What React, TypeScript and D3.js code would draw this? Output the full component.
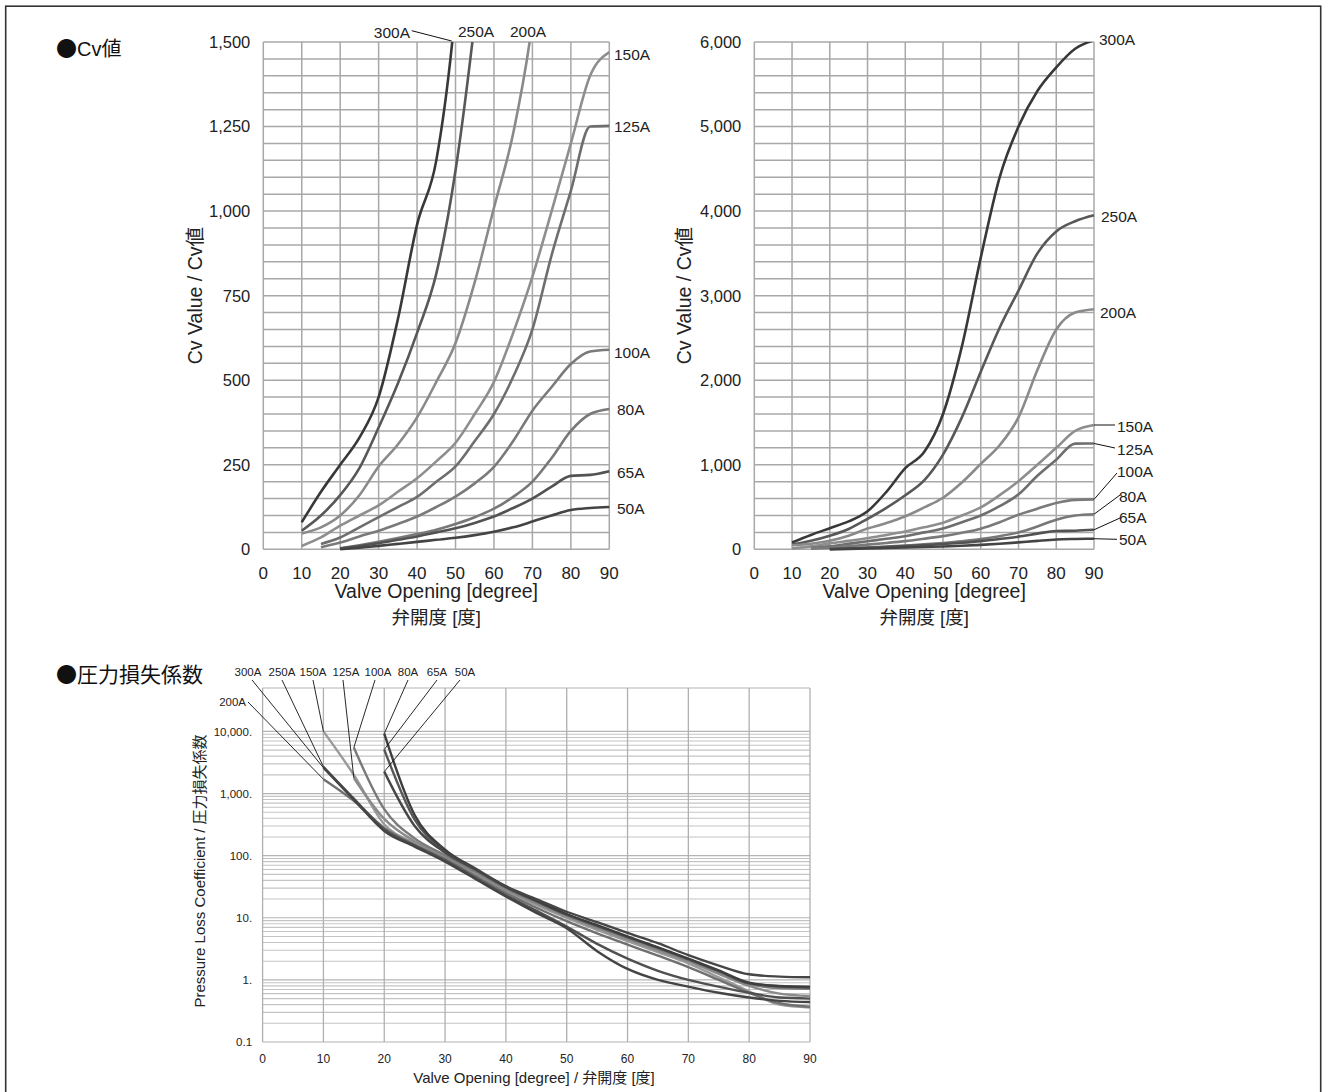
import React from 'react';
import * as d3 from 'd3';

// ---------------- DATA ----------------
const SIZES = ['300A', '250A', '200A', '150A', '125A', '100A', '80A', '65A', '50A'];
const DEG = [10, 15, 20, 25, 30, 35, 40, 45, 50, 55, 60, 65, 70, 75, 80, 85, 90];
const DEG_TICKS = [0, 10, 20, 30, 40, 50, 60, 70, 80, 90];

// Cv values
const CV_300A = [80, 170, 250, 330, 450, 680, 960, 1150, 1600, 2400, 3450, 4400, 5000, 5420, 5700, 5920, 6020];
const CV_250A = [55, 100, 160, 240, 360, 490, 640, 815, 1120, 1560, 2100, 2620, 3060, 3500, 3760, 3880, 3950];
const CV_200A = [47, 65, 100, 160, 245, 310, 390, 495, 610, 790, 1010, 1230, 1560, 2120, 2600, 2800, 2840];
const CV_150A = [10, 35, 70, 100, 130, 170, 210, 260, 315, 400, 495, 640, 806, 1000, 1200, 1400, 1470];
const CV_125A = [null, 16, 35, 65, 95, 125, 155, 200, 245, 320, 400, 510, 650, 870, 1060, 1250, 1252];
const CV_100A = [null, 6, 20, 38, 55, 75, 97, 125, 156, 195, 244, 320, 410, 480, 548, 585, 590];
const CV_80A = [null, null, 3, 12, 22, 33, 45, 58, 75, 95, 120, 155, 200, 270, 350, 400, 415];
const CV_65A = [null, null, 2, 10, 18, 28, 38, 50, 62, 78, 97, 122, 150, 185, 217, 220, 231];
const CV_50A = [null, null, 0, 5, 10, 16, 22, 28, 34, 42, 52, 65, 82, 100, 116, 122, 125];

// Pressure loss coefficient values
const K_300A = [2600, 800, 250, 140, 80, 42, 22, 12, 6.8, 2.9, 1.5, 1.0, 0.78, 0.62, 0.52, 0.46, 0.44];
const K_250A = [2700, 830, 265, 145, 84, 44, 23, 13, 7.2, 3.8, 2.2, 1.4, 1.0, 0.78, 0.62, 0.52, 0.5];
const K_200A = [1700, 760, 280, 150, 88, 47, 25, 14.5, 8.8, 5.6, 3.7, 2.45, 1.6, 1.0, 0.62, 0.42, 0.37];
const K_150A = [10000, 2000, 320, 158, 92, 50, 27, 16, 10, 6.4, 4.2, 2.8, 1.85, 1.1, 0.65, 0.4, 0.36];
const K_125A = [null, 1780, 390, 170, 97, 53, 28, 17, 10.5, 6.8, 4.5, 3.0, 2.0, 1.25, 0.8, 0.6, 0.55];
const K_100A = [null, 5500, 560, 190, 102, 56, 30, 18, 11, 7.2, 4.8, 3.2, 2.1, 1.35, 0.86, 0.74, 0.72];
const K_80A = [null, null, 9200, 450, 125, 62, 32, 19, 11.5, 7.6, 5.0, 3.35, 2.2, 1.42, 0.9, 0.79, 0.76];
const K_65A = [null, null, 5100, 380, 118, 60, 31, 18.5, 11.2, 7.4, 4.9, 3.3, 2.15, 1.38, 0.88, 0.8, 0.78];
const K_50A = [null, null, 2250, 300, 112, 60, 32, 20, 12.5, 8.5, 5.7, 3.9, 2.5, 1.7, 1.23, 1.13, 1.1];

const CV_TICKS_LEFT = [0, 250, 500, 750, 1000, 1250, 1500];
const CV_TICKS_RIGHT = [0, 1000, 2000, 3000, 4000, 5000, 6000];
const K_TICKS = [0.1, 1, 10, 100, 1000, 10000];
const K_TICK_LABELS = ['0.1', '1.', '10.', '100.', '1,000.', '10,000.'];

const CV_DATA = [CV_300A, CV_250A, CV_200A, CV_150A, CV_125A, CV_100A, CV_80A, CV_65A, CV_50A];
const K_DATA = [K_300A, K_250A, K_200A, K_150A, K_125A, K_100A, K_80A, K_65A, K_50A];

// ---------------- STYLE ----------------
const FONT = "'Liberation Sans', Arial, 'Noto Sans CJK JP', sans-serif";
const CJK = "'Noto Sans CJK JP', sans-serif";
const CV_COLORS = ['#383838', '#585858', '#8a8a8a', '#8e8e8e', '#6e6e6e', '#7a7a7a', '#787878', '#525252', '#444444'];
const K_COLORS = ['#444444', '#505050', '#707070', '#9a9a9a', '#8a8a8a', '#7a7a7a', '#3e3e3e', '#565656', '#464646'];
const GRID = '#a8a8a8';

type Lbl = { name: string; x: number; y: number; anchor?: string; lx?: number; ly?: number; leaderTop?: [number, number, number, number] };

const LEFT = {
  id: 'cvL', x0: 263.3, x1: 609.3, yTop: 42, yBot: 549.3, max: 1500, step: 50,
  ticks: CV_TICKS_LEFT, titleX: 195,
  labels: [
    { name: '300A', x: 410, y: 32, anchor: 'end', leaderTop: [411.7, 30.7, 451.7, 41] },
    { name: '250A', x: 476, y: 31, anchor: 'middle' },
    { name: '200A', x: 528, y: 31, anchor: 'middle' },
    { name: '150A', x: 614, y: 54 },
    { name: '125A', x: 614, y: 126 },
    { name: '100A', x: 614, y: 352 },
    { name: '80A', x: 617, y: 409 },
    { name: '65A', x: 617, y: 472 },
    { name: '50A', x: 617, y: 508.5 },
  ] as Lbl[],
};
const RIGHT = {
  id: 'cvR', x0: 754.3, x1: 1094, yTop: 42, yBot: 549.3, max: 6000, step: 200,
  ticks: CV_TICKS_RIGHT, titleX: 684,
  labels: [
    { name: '300A', x: 1099, y: 39 },
    { name: '250A', x: 1101, y: 216 },
    { name: '200A', x: 1100, y: 312 },
    { name: '150A', x: 1117, y: 426, lx: 1115, ly: 425 },
    { name: '125A', x: 1117, y: 449, lx: 1115, ly: 448 },
    { name: '100A', x: 1117, y: 471.5, lx: 1117, ly: 473 },
    { name: '80A', x: 1119, y: 496, lx: 1120, ly: 495 },
    { name: '65A', x: 1119, y: 517.5, lx: 1120, ly: 518 },
    { name: '50A', x: 1119, y: 539, lx: 1117, ly: 539.3 },
  ] as Lbl[],
};

const BOTTOM = {
  x0: 262.6, x1: 810, yTop: 688, yBot: 1042, kMin: 0.1, kMax: 50000,
  labels: [
    { name: '300A', x: 248, y: 672, lx: 252, ly: 680 },
    { name: '250A', x: 282, y: 672, lx: 282, ly: 680 },
    { name: '200A', x: 246, y: 702, anchor: 'end', lx: 248, ly: 702 },
    { name: '150A', x: 313, y: 672, lx: 313, ly: 680 },
    { name: '125A', x: 346, y: 672, lx: 343, ly: 680 },
    { name: '100A', x: 378, y: 672, lx: 375, ly: 680 },
    { name: '80A', x: 408, y: 672, lx: 408, ly: 680 },
    { name: '65A', x: 437, y: 672, lx: 437, ly: 680 },
    { name: '50A', x: 465, y: 672, lx: 460, ly: 680 },
  ] as Lbl[],
};

type CvLayout = typeof LEFT;

function CvChart({ L }: { L: CvLayout }) {
  const x = d3.scaleLinear().domain([0, 90]).range([L.x0, L.x1]);
  const y = d3.scaleLinear().domain([0, L.max]).range([L.yBot, L.yTop]);
  const hLines = d3.range(0, L.max + 1e-6, L.step);
  const line = d3
    .line<[number, number | null]>()
    .defined((d) => d[1] != null)
    .x((d) => x(d[0]))
    .y((d) => y(d[1] as number))
    .curve(d3.curveMonotoneX);
  const cy = (L.yTop + L.yBot) / 2;
  const cx = (L.x0 + L.x1) / 2;
  return (
    <g>
      <defs>
        <clipPath id={L.id}>
          <rect x={L.x0 - 4} y={L.yTop} width={L.x1 - L.x0 + 8} height={L.yBot - L.yTop + 4} />
        </clipPath>
      </defs>
      {hLines.map((v) => (
        <line key={'h' + v} x1={L.x0} x2={L.x1} y1={y(v)} y2={y(v)} stroke={GRID} strokeWidth={1.5} />
      ))}
      {DEG_TICKS.map((d) => (
        <line key={'v' + d} x1={x(d)} x2={x(d)} y1={L.yTop} y2={L.yBot} stroke={GRID} strokeWidth={1.5} />
      ))}
      <g clipPath={`url(#${L.id})`}>
        {CV_DATA.map((vals, i) => (
          <path
            key={SIZES[i]}
            d={line(DEG.map((d, j) => [d, vals[j]] as [number, number | null])) || ''}
            fill="none"
            stroke={CV_COLORS[i]}
            strokeWidth={2.6}
            strokeLinejoin="round"
          />
        ))}
      </g>
      {L.ticks.map((v) => (
        <text key={'yt' + v} x={L.x0 - 13} y={y(v)} dy="0.36em" textAnchor="end" fontSize={16.5} fill="#222">
          {d3.format(',')(v)}
        </text>
      ))}
      {DEG_TICKS.map((d) => (
        <text key={'xt' + d} x={x(d)} y={572.5} dy="0.36em" textAnchor="middle" fontSize={17} fill="#222">
          {d}
        </text>
      ))}
      <text x={cx} y={598} textAnchor="middle" fontSize={19.5} fill="#222">
        Valve Opening [degree]
      </text>
      <text x={cx} y={624} textAnchor="middle" fontSize={18.5} fill="#222">
        弁開度 [度]
      </text>
      <text
        transform={`translate(${L.titleX},${cy}) rotate(-90)`}
        textAnchor="middle"
        dy="0.36em"
        fontSize={19.5}
        fill="#222"
      >
        Cv Value / Cv値
      </text>
      {L.labels.map((lb) => {
        const idx = SIZES.indexOf(lb.name);
        const vals = CV_DATA[idx];
        const endV = vals[vals.length - 1] as number;
        return (
          <g key={'lb' + lb.name}>
            {lb.lx != null && (
              <line x1={x(90)} y1={y(endV)} x2={lb.lx} y2={lb.ly} stroke="#111" strokeWidth={1} />
            )}
            {lb.leaderTop && (
              <line
                x1={lb.leaderTop[0]}
                y1={lb.leaderTop[1]}
                x2={lb.leaderTop[2]}
                y2={lb.leaderTop[3]}
                stroke="#111"
                strokeWidth={1}
              />
            )}
            <text x={lb.x} y={lb.y} dy="0.36em" textAnchor={(lb.anchor as any) || 'start'} fontSize={15.5} fill="#222">
              {lb.name}
            </text>
          </g>
        );
      })}
    </g>
  );
}

function LossChart() {
  const B = BOTTOM;
  const x = d3.scaleLinear().domain([0, 90]).range([B.x0, B.x1]);
  const y = d3.scaleLog().domain([B.kMin, B.kMax]).range([B.yBot, B.yTop]);
  const minor: number[] = [];
  for (let e = -1; e <= 3; e++) {
    for (let k = 2; k <= 9; k++) minor.push(k * Math.pow(10, e));
  }
  const line = d3
    .line<[number, number | null]>()
    .defined((d) => d[1] != null)
    .x((d) => x(d[0]))
    .y((d) => y(d[1] as number))
    .curve(d3.curveMonotoneX);
  const order = [3, 4, 5, 2, 1, 0, 7, 6, 8];
  return (
    <g>
      {minor.map((v) => (
        <line key={'m' + v} x1={B.x0} x2={B.x1} y1={y(v)} y2={y(v)} stroke="#c4c4c4" strokeWidth={1.1} />
      ))}
      {K_TICKS.map((v) => (
        <line key={'M' + v} x1={B.x0} x2={B.x1} y1={y(v)} y2={y(v)} stroke="#b4b4b4" strokeWidth={1.2} />
      ))}
      <line x1={B.x0} x2={B.x1} y1={B.yTop} y2={B.yTop} stroke="#b4b4b4" strokeWidth={1.2} />
      {DEG_TICKS.map((d) => (
        <line key={'v' + d} x1={x(d)} x2={x(d)} y1={B.yTop} y2={B.yBot} stroke="#b0b0b0" strokeWidth={1.3} />
      ))}
      {order.map((i) => (
        <path
          key={'k' + SIZES[i]}
          d={line(DEG.map((d, j) => [d, K_DATA[i][j]] as [number, number | null])) || ''}
          fill="none"
          stroke={K_COLORS[i]}
          strokeWidth={2.4}
          strokeLinejoin="round"
        />
      ))}
      {B.labels.map((lb) => {
        const idx = SIZES.indexOf(lb.name);
        const vals = K_DATA[idx];
        const j = vals.findIndex((v) => v != null);
        return (
          <g key={'bl' + lb.name}>
            <line x1={lb.lx} y1={lb.ly} x2={x(DEG[j])} y2={y(vals[j] as number)} stroke="#111" strokeWidth={0.9} />
            <text x={lb.x} y={lb.y} dy="0.36em" textAnchor={(lb.anchor as any) || 'middle'} fontSize={11.5} fill="#222">
              {lb.name}
            </text>
          </g>
        );
      })}
      {K_TICKS.map((v, i) => (
        <text key={'kt' + v} x={B.x0 - 10.5} y={y(v)} dy="0.36em" textAnchor="end" fontSize={11.5} fill="#222">
          {K_TICK_LABELS[i]}
        </text>
      ))}
      {DEG_TICKS.map((d) => (
        <text key={'bx' + d} x={x(d)} y={1059} dy="0.36em" textAnchor="middle" fontSize={12} fill="#222">
          {d}
        </text>
      ))}
      <text x={534} y={1083} textAnchor="middle" fontSize={15} fill="#222">
        Valve Opening [degree] / 弁開度 [度]
      </text>
      <text transform={`translate(200,871) rotate(-90)`} textAnchor="middle" dy="0.36em" fontSize={15} fill="#222">
        Pressure Loss Coefficient  / 圧力損失係数
      </text>
    </g>
  );
}

export default function App() {
  return (
    <svg
      width={1327}
      height={1092}
      style={{ position: 'absolute', left: 0, top: 0, background: '#fff' }}
      fontFamily={FONT}
    >
      <rect x={0} y={0} width={1327} height={1092} fill="#fff" />
      <rect x={5.7} y={6.2} width={1315} height={1100} fill="none" stroke="#333" strokeWidth={1.6} />
      <text x={56} y={49} dy="0.36em" fontSize={20} fill="#111">
        <tspan fontFamily={CJK} fontSize={21}>●</tspan>
        <tspan>Cv</tspan>
        <tspan fontFamily={CJK}>値</tspan>
      </text>
      <text x={56} y={674} dy="0.36em" fontSize={21} fill="#111" fontFamily={CJK}>
        ●圧力損失係数
      </text>
      <CvChart L={LEFT} />
      <CvChart L={RIGHT} />
      <LossChart />
    </svg>
  );
}
